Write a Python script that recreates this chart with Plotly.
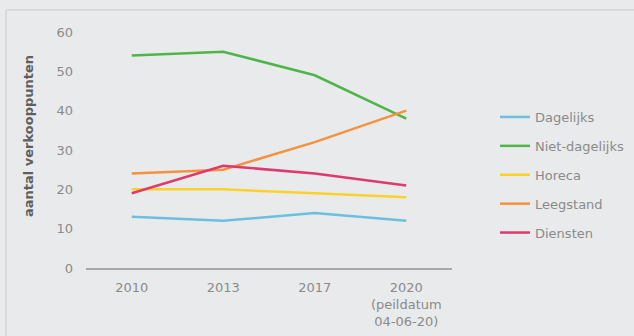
import plotly.graph_objects as go

years = ["2010", "2013", "2017", "2020<br>(peildatum<br>04-06-20)"]
dagelijks = [13, 12, 14, 12]
niet_dagelijks = [54, 55, 49, 38]
horeca = [20, 20, 19, 18]
leegstand = [24, 25, 32, 40]
diensten = [19, 26, 24, 21]

series = [
    ("Dagelijks", dagelijks, "#6dbfe2"),
    ("Niet-dagelijks", niet_dagelijks, "#4fb54a"),
    ("Horeca", horeca, "#fcd22a"),
    ("Leegstand", leegstand, "#f5923e"),
    ("Diensten", diensten, "#df3a6c"),
]

BG = "#e9eaec"
FONT = "DejaVu Sans, Verdana, sans-serif"
W, H = 634, 336
L, R, T, B = 86, 182, 32, 68
pw, ph = W - L - R, H - T - B

fig = go.Figure()
for i, (name, vals, col) in enumerate(series):
    fig.add_trace(go.Scatter(
        x=years, y=vals, name=name, mode="lines",
        line=dict(color=col, width=2.5),
        legendgroup=f"g{i}",
    ))

fx = lambda px: (px - L) / pw
fy = lambda py: (H - B - py) / ph

fig.update_layout(
    width=W, height=H,
    margin=dict(l=L, r=R, t=T, b=B, autoexpand=False),
    paper_bgcolor=BG,
    plot_bgcolor=BG,
    font=dict(family=FONT, color="#8a8a8a", size=13),
    showlegend=True,
    legend=dict(
        x=fx(495), y=fy(102), xanchor="left", yanchor="top",
        font=dict(family=FONT, size=13, color="#8a8a8a"),
        tracegroupgap=9,
        bgcolor="rgba(0,0,0,0)",
    ),
    xaxis=dict(
        range=[-0.5, 3.5],
        showgrid=False, showline=True, linecolor="#a8a8a8", linewidth=1.5,
        ticks="", tickfont=dict(family=FONT, size=13, color="#8a8a8a"),
        ticklabelstandoff=7,
        zeroline=False, fixedrange=True,
    ),
    yaxis=dict(
        range=[0, 60], dtick=10, showgrid=False, showline=False, zeroline=False,
        ticks="", tickfont=dict(family=FONT, size=13, color="#8a8a8a"),
        ticklabelstandoff=12,
    ),
    annotations=[
        dict(text="<b>aantal verkooppunten</b>", xref="paper", yref="paper",
             x=fx(28), y=fy(136), textangle=-90, showarrow=False,
             font=dict(family=FONT, size=13, color="#5f5f5f"),
             xanchor="center", yanchor="middle"),
    ],
    shapes=[
        dict(type="line", xref="paper", yref="paper", x0=fx(6), x1=fx(W), y0=fy(10), y1=fy(10),
             line=dict(color="#dadbdd", width=2)),
        dict(type="line", xref="paper", yref="paper", x0=fx(6), x1=fx(6), y0=fy(10), y1=fy(H),
             line=dict(color="#dadbdd", width=2)),
    ],
)

fig.write_html(
    "out.html",
    config={"displayModeBar": False},
    post_script="document.body.style.margin='0';document.body.style.background='%s';" % BG,
)
